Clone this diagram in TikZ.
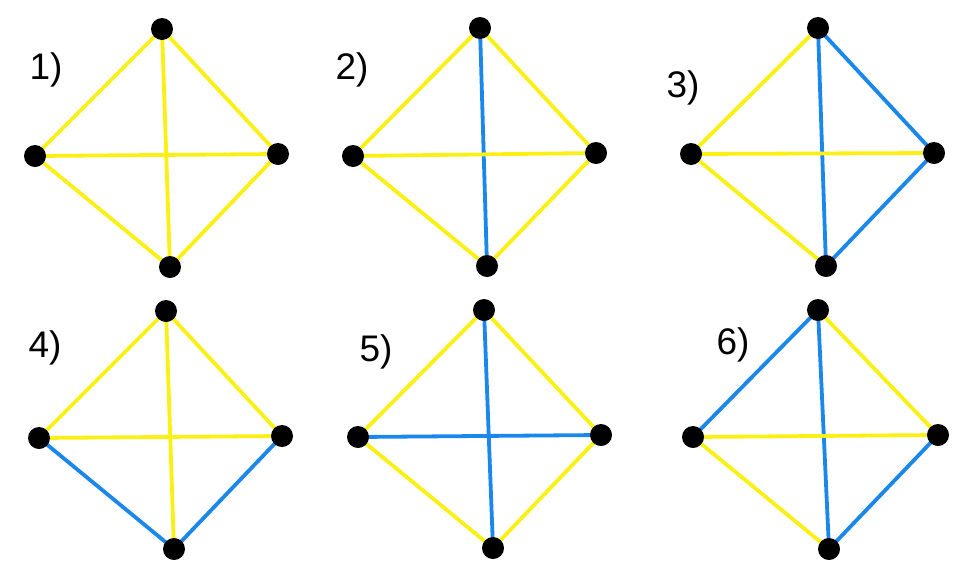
\documentclass[tikz,border=0pt]{standalone}
\usepackage{fontspec}
\setmainfont{Liberation Sans}
\usetikzlibrary{backgrounds}
\definecolor{ey}{RGB}{250,240,20}
\definecolor{eb}{RGB}{25,135,235}
\tikzset{
  vtx/.style={circle,fill=black,inner sep=0pt,minimum size=22pt},
  ye/.style={draw=ey,line width=3.8pt},
  be/.style={draw=eb,line width=3.8pt},
  lbl/.style={font=\fontsize{37}{40}\selectfont,inner sep=0pt}
}
% #1 name, #2 top, #3 left, #4 right, #5 bottom, #6 label pos, #7 label,
% #8 list of edges with styles
\newcommand{\mygraph}[8]{%
  \node[vtx] (#1t) at (#2) {};
  \node[vtx] (#1l) at (#3) {};
  \node[vtx] (#1r) at (#4) {};
  \node[vtx] (#1b) at (#5) {};
  \node[lbl] (#1lab) at (#6) {#7};
  \begin{scope}[on background layer]
  \foreach \ea/\eb/\st in {#8} {
    \draw[\st] (#1\ea.center) -- (#1\eb.center);
  }
  \end{scope}
}
\begin{document}
\begin{tikzpicture}[x=1pt,y=-1pt]
\useasboundingbox (0,0) rectangle (972,571);
\mygraph{a}{162,29}{35,156}{278,154}{170,267}{46,70}{1)}{t/l/ye,t/r/ye,t/b/ye,l/r/ye,l/b/ye,r/b/ye}
\mygraph{b}{480,28}{353,156}{596,153}{487,266}{352,70}{2)}{t/l/ye,t/r/ye,t/b/be,l/r/ye,l/b/ye,r/b/ye}
\mygraph{c}{818,28}{691,154}{934,153}{826,266}{683,88}{3)}{t/l/ye,t/r/be,t/b/be,l/r/ye,l/b/ye,r/b/be}
\mygraph{d}{166,311}{39,438}{282,436}{174,549}{45,348}{4)}{t/l/ye,t/r/ye,t/b/ye,l/r/ye,l/b/be,r/b/be}
\mygraph{e}{484,310}{358,437}{601,435}{493,548}{376,352}{5)}{t/l/ye,t/r/ye,t/b/be,l/r/be,l/b/ye,r/b/ye}
\mygraph{f}{818,310}{693,437}{938,435}{829,549}{733,345}{6)}{t/l/be,t/r/ye,t/b/be,l/r/ye,l/b/ye,r/b/be}
\end{tikzpicture}
\end{document}
